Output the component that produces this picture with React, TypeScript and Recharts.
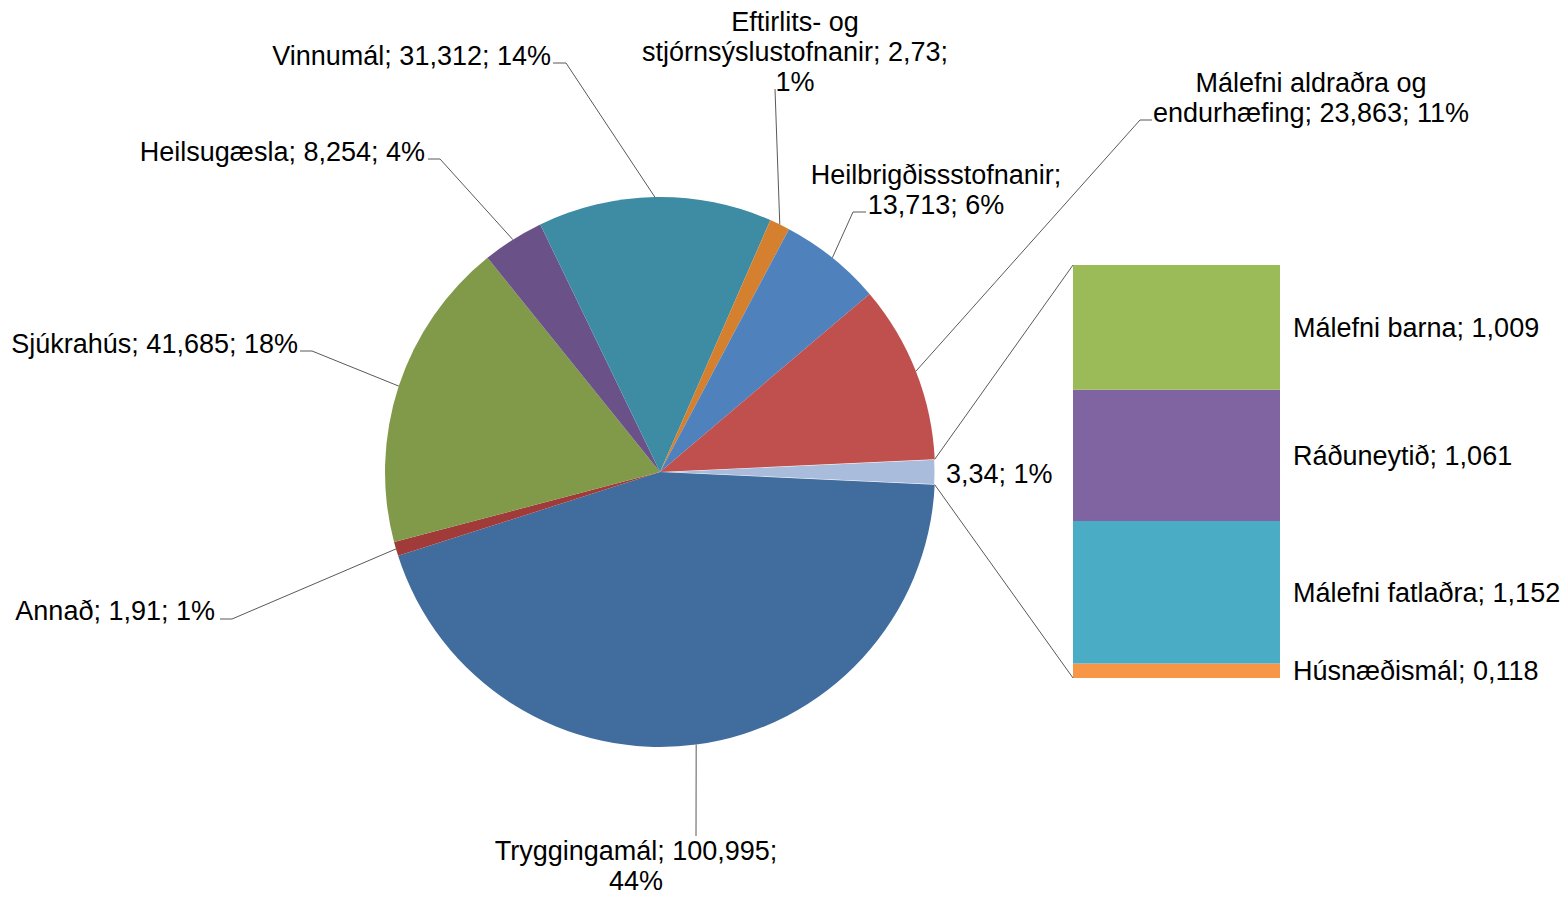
import React from 'react';
import { PieChart, Pie, Cell, BarChart, Bar, XAxis, YAxis, LabelList } from 'recharts';

// pie slices, clockwise after the "other" slice
const pieCategories = [
  'Tryggingamál',
  'Annað',
  'Sjúkrahús',
  'Heilsugæsla',
  'Vinnumál',
  'Eftirlits- og stjórnsýslustofnanir',
  'Heilbrigðissstofnanir',
  'Málefni aldraðra og endurhæfing',
];
const pieValues = [100.995, 1.91, 41.685, 8.254, 31.312, 2.73, 13.713, 23.863];
const piePercents = [44, 1, 18, 4, 14, 1, 6, 11];
const pieColors = ['#416C9E', '#A03B3A', '#809A49', '#6A5188', '#3E8CA3', '#D4802F', '#4F81BD', '#C0504D'];

// breakdown bar, bottom to top
const barCategories = ['Húsnæðismál', 'Málefni fatlaðra', 'Ráðuneytið', 'Málefni barna'];
const barValues = [0.118, 1.152, 1.061, 1.009];
const barColors = ['#F79646', '#4BACC6', '#8064A2', '#9BBB59'];
const otherPercent = 1;
const otherColor = '#A9BCDB';

const FONT = '"Liberation Sans", Arial, sans-serif';
const FONT_SIZE = 27;
const LINE_H = 30;
const PIE_CX = 660;
const PIE_CY = 472;
const PIE_R = 275;
const BAR_X = 1073;
const BAR_Y = 265;
const BAR_W = 207;
const BAR_H = 413;
const BAR_PAD = 30; // room for labels above/below the bar
const RAD = Math.PI / 180;

const fmt = (v: number) => String(Math.round(v * 1000) / 1000).replace('.', ',');

const otherValue = barValues.reduce((a, b) => a + b, 0);
const total = otherValue + pieValues.reduce((a, b) => a + b, 0);
const startAngle = (otherValue / total) * 180;

const pieData = [
  { name: '', value: otherValue, pct: otherPercent, fill: otherColor },
  ...pieCategories.map((name, i) => ({ name, value: pieValues[i], pct: piePercents[i], fill: pieColors[i] })),
];

const barRow: Record<string, number | string> = { k: 'other' };
barCategories.forEach((c, i) => {
  barRow[c] = barValues[i];
});

// label placement per slice (same order as pieData)
type Layout = { tx: number; ty: number; anchor: 'start' | 'middle' | 'end'; lines: number[]; elbow?: [number, number]; hx?: number };
const labelLayout: Layout[] = [
  { tx: 946, ty: 474, anchor: 'start', lines: [2] },
  { elbow: [696, 836], tx: 636, ty: 851, anchor: 'middle', lines: [2, 1] },
  { elbow: [232, 619], hx: 220, tx: 215, ty: 611, anchor: 'end', lines: [3] },
  { elbow: [312, 351], hx: 300, tx: 298, ty: 344, anchor: 'end', lines: [3] },
  { elbow: [440, 159], hx: 428, tx: 425, ty: 152, anchor: 'end', lines: [3] },
  { elbow: [566, 63], hx: 553, tx: 551, ty: 56, anchor: 'end', lines: [3] },
  { elbow: [775, 89], tx: 795, ty: 22, anchor: 'middle', lines: [2, 2, 1] },
  { elbow: [853, 212], hx: 866, tx: 936, ty: 175, anchor: 'middle', lines: [1, 2] },
  { elbow: [1140, 120], hx: 1152, tx: 1311, ty: 83, anchor: 'middle', lines: [3, 3] },
];

const renderLabel = (props: any) => {
  const idx = typeof props.index === 'number' ? props.index : pieData.findIndex((d) => d.name === props.name);
  const d = pieData[idx];
  const lay = labelLayout[idx];
  if (!d || !lay) return null;
  const full = d.name ? `${d.name}; ${fmt(d.value)}; ${d.pct}%` : `${fmt(d.value)}; ${d.pct}%`;
  const words = full.split(' ');
  const lines: string[] = [];
  let pos = 0;
  lay.lines.forEach((n) => {
    lines.push(words.slice(pos, pos + n).join(' '));
    pos += n;
  });
  const cx = props.cx ?? PIE_CX;
  const cy = props.cy ?? PIE_CY;
  const r = props.outerRadius ?? PIE_R;
  const sx = cx + r * Math.cos(-props.midAngle * RAD);
  const sy = cy + r * Math.sin(-props.midAngle * RAD);
  let path = '';
  if (lay.elbow) {
    path = `M${sx},${sy} L${lay.elbow[0]},${lay.elbow[1]}`;
    if (lay.hx !== undefined) path += ` L${lay.hx},${lay.elbow[1]}`;
  }
  return (
    <g key={`lbl-${idx}`}>
      {path && <path d={path} stroke="#595959" strokeWidth={1} fill="none" />}
      <text x={lay.tx} y={lay.ty} textAnchor={lay.anchor} fill="#000" fontSize={FONT_SIZE} fontFamily={FONT}>
        {lines.map((l, i) => (
          <tspan key={i} x={lay.tx} y={lay.ty + i * LINE_H} dominantBaseline="central">
            {l}
          </tspan>
        ))}
      </text>
    </g>
  );
};

export default function App() {
  const a = startAngle * RAD;
  const ex = PIE_CX + PIE_R * Math.cos(a);
  const eyTop = PIE_CY - PIE_R * Math.sin(a);
  const eyBot = PIE_CY + PIE_R * Math.sin(a);

  return (
    <div style={{ position: 'absolute', left: 0, top: 0, width: 1564, height: 897, background: '#fff', fontFamily: FONT }}>
      <div style={{ position: 'absolute', left: 0, top: 0 }}>
        <PieChart width={1564} height={897} margin={{ top: 0, right: 0, bottom: 0, left: 0 }}>
          <Pie
            data={pieData}
            dataKey="value"
            nameKey="name"
            cx={PIE_CX}
            cy={PIE_CY}
            outerRadius={PIE_R}
            startAngle={startAngle}
            endAngle={startAngle - 360}
            stroke="none"
            label={renderLabel}
            labelLine={false}
            isAnimationActive={false}
          >
            {pieData.map((d, i) => (
              <Cell key={`c-${i}`} fill={d.fill} stroke={i === 0 ? '#fff' : 'none'} strokeWidth={i === 0 ? 1 : 0} />
            ))}
          </Pie>
        </PieChart>
      </div>

      <div style={{ position: 'absolute', left: BAR_X, top: BAR_Y - BAR_PAD }}>
        <BarChart
          width={1564 - BAR_X}
          height={BAR_H + 2 * BAR_PAD}
          data={[barRow]}
          margin={{ top: BAR_PAD, right: 1564 - BAR_X - BAR_W, bottom: BAR_PAD, left: 0 }}
          barCategoryGap={0}
        >
          <XAxis dataKey="k" hide />
          <YAxis hide type="number" domain={[0, otherValue]} />
          {barCategories.map((c, i) => (
            <Bar key={c} dataKey={c} stackId="s" fill={barColors[i]} isAnimationActive={false}>
              <LabelList
                dataKey={c}
                position="right"
                offset={13}
                fill="#000"
                fontSize={FONT_SIZE}
                fontFamily={FONT}
                formatter={(v: any) => `${c}; ${fmt(Number(v))}`}
              />
            </Bar>
          ))}
        </BarChart>
      </div>

      <svg width={1564} height={897} style={{ position: 'absolute', left: 0, top: 0, pointerEvents: 'none' }}>
        <line x1={ex} y1={eyTop} x2={BAR_X} y2={BAR_Y} stroke="#595959" strokeWidth={1} />
        <line x1={ex} y1={eyBot} x2={BAR_X} y2={BAR_Y + BAR_H} stroke="#595959" strokeWidth={1} />
      </svg>
    </div>
  );
}
